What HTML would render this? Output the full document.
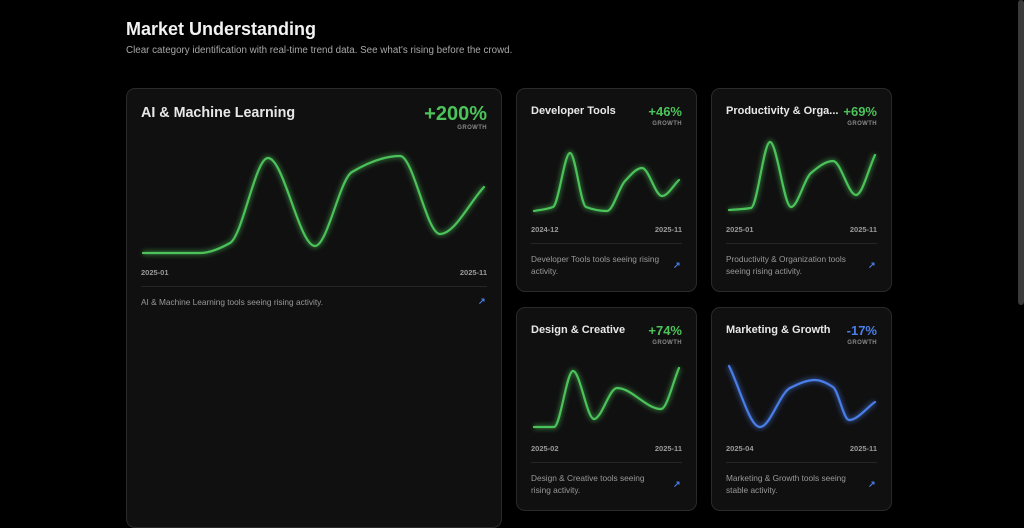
<!DOCTYPE html>
<html><head><meta charset="utf-8"><style>
*{margin:0;padding:0;box-sizing:border-box}
body{width:1024px;height:512px;background:#000;font-family:"Liberation Sans",sans-serif;position:relative;overflow:hidden;color:#eee}
.abs{position:absolute}
h1{position:absolute;left:126px;top:19px;font-size:18px;font-weight:bold;color:#f2f2f2}
.sub{position:absolute;left:126px;top:45px;font-size:9.8px;color:#a8a8a8}
.card{position:absolute;background:#101010;border:1px solid #2a2a2a;border-radius:9px}
.t{position:absolute;font-weight:bold;color:#e8e8e8;white-space:nowrap}
.g{position:absolute;font-weight:bold;text-align:right}
.gl{position:absolute;font-size:6px;font-weight:bold;color:#888;letter-spacing:.4px;text-align:right}
.d{position:absolute;font-size:7.5px;color:#9a9a9a;font-weight:bold}
.desc{position:absolute;font-size:8.3px;color:#999;line-height:11.5px}
.hr{position:absolute;height:1px;background:#262626}
.ar{position:absolute;color:#4a7ee8;font-size:9px;font-weight:bold}
svg{position:absolute;left:0;top:0}
</style></head><body>
<h1>Market Understanding</h1>
<div class="sub">Clear category identification with real-time trend data. See what's rising before the crowd.</div>
<div class="abs" style="left:1018px;top:0;width:6px;height:305px;background:#3a3a3a;border-radius:3px"></div>

<div class="card" style="left:126px;top:88px;width:376px;height:440px"></div>
<div class="t" style="left:141px;top:105px;font-size:14.3px">AI &amp; Machine Learning</div>
<div class="g" style="left:400px;width:87px;top:103px;font-size:20px;color:#4cc35a">+200%</div>
<div class="gl" style="left:430px;width:57px;top:125px">GROWTH</div>
<div class="d" style="left:141px;top:268px">2025-01</div>
<div class="d" style="left:440px;width:47px;text-align:right;top:268px">2025-11</div>
<div class="hr" style="left:141px;top:286px;width:346px"></div>
<div class="desc" style="left:141px;top:297px">AI &amp; Machine Learning tools seeing rising activity.</div>
<div class="ar" style="left:478px;top:296px">↗</div>

<div class="card" style="left:516px;top:88px;width:181px;height:204px"></div>
<div class="t" style="left:531px;top:105px;font-size:11px">Developer Tools</div>
<div class="g" style="left:630px;width:52px;top:104px;font-size:13px;color:#4cc35a">+46%</div>
<div class="gl" style="left:630px;width:52px;top:121px">GROWTH</div>
<div class="d" style="left:531px;top:225px">2024-12</div>
<div class="d" style="left:632px;width:50px;text-align:right;top:225px">2025-11</div>
<div class="hr" style="left:531px;top:243px;width:151px"></div>
<div class="desc" style="left:531px;top:254px;width:140px">Developer Tools tools seeing rising activity.</div>
<div class="ar" style="left:673px;top:260px">↗</div>

<div class="card" style="left:711px;top:88px;width:181px;height:204px"></div>
<div class="t" style="left:726px;top:105px;font-size:11px">Productivity &amp; Orga...</div>
<div class="g" style="left:830px;width:47px;top:104px;font-size:13px;color:#4cc35a">+69%</div>
<div class="gl" style="left:825px;width:52px;top:121px">GROWTH</div>
<div class="d" style="left:726px;top:225px">2025-01</div>
<div class="d" style="left:827px;width:50px;text-align:right;top:225px">2025-11</div>
<div class="hr" style="left:726px;top:243px;width:151px"></div>
<div class="desc" style="left:726px;top:254px;width:140px">Productivity &amp; Organization tools seeing rising activity.</div>
<div class="ar" style="left:868px;top:260px">↗</div>

<div class="card" style="left:516px;top:307px;width:181px;height:204px"></div>
<div class="t" style="left:531px;top:324px;font-size:11px">Design &amp; Creative</div>
<div class="g" style="left:630px;width:52px;top:323px;font-size:13px;color:#4cc35a">+74%</div>
<div class="gl" style="left:630px;width:52px;top:340px">GROWTH</div>
<div class="d" style="left:531px;top:444px">2025-02</div>
<div class="d" style="left:632px;width:50px;text-align:right;top:444px">2025-11</div>
<div class="hr" style="left:531px;top:462px;width:151px"></div>
<div class="desc" style="left:531px;top:473px;width:128px">Design &amp; Creative tools seeing rising activity.</div>
<div class="ar" style="left:673px;top:479px">↗</div>

<div class="card" style="left:711px;top:307px;width:181px;height:204px"></div>
<div class="t" style="left:726px;top:324px;font-size:11px">Marketing &amp; Growth</div>
<div class="g" style="left:825px;width:52px;top:323px;font-size:13px;color:#4a7ee8">-17%</div>
<div class="gl" style="left:825px;width:52px;top:340px">GROWTH</div>
<div class="d" style="left:726px;top:444px">2025-04</div>
<div class="d" style="left:827px;width:50px;text-align:right;top:444px">2025-11</div>
<div class="hr" style="left:726px;top:462px;width:151px"></div>
<div class="desc" style="left:726px;top:473px;width:130px">Marketing &amp; Growth tools seeing stable activity.</div>
<div class="ar" style="left:868px;top:479px">↗</div>

<svg id="s" width="1024" height="512">
<defs><filter id="gw" x="-20%" y="-20%" width="140%" height="140%"><feGaussianBlur stdDeviation="2.5"/></filter></defs>
</svg>
<script>
var series=[
 ["#4cc35a",[[143,253],[200,253],[230,243],[268,158],[315,246],[352,172],[400,156],[440,234],[484,187]]],
 ["#4cc35a",[[534,211],[553,207],[570,153],[586,207],[607,211],[625,181],[642,168],[662,196],[679,180]]],
 ["#4cc35a",[[729,210],[751,208],[770,142],[791,207],[811,173],[833,161],[856,195],[875,155]]],
 ["#4cc35a",[[534,427],[554,427],[573,371],[594,419],[617,388],[661,409],[679,368]]],
 ["#4a7ee8",[[729,366],[760,427],[790,388],[815,380],[833,387],[849,420],[875,402]]]
];
function mono(p){var n=p.length,s=[],m=[];
 for(var i=0;i<n-1;i++)s.push((p[i+1][1]-p[i][1])/(p[i+1][0]-p[i][0]));
 m[0]=s[0];m[n-1]=s[n-2];
 for(var i=1;i<n-1;i++){if(s[i-1]*s[i]<=0)m[i]=0;else{var h0=p[i][0]-p[i-1][0],h1=p[i+1][0]-p[i][0];
  m[i]=(3*(h0+h1))/((2*h1+h0)/s[i-1]+(h1+2*h0)/s[i]);}}
 var d='M'+p[0][0]+','+p[0][1];
 for(var i=0;i<n-1;i++){var h=(p[i+1][0]-p[i][0])/3;
  d+=' C'+(p[i][0]+h)+','+(p[i][1]+m[i]*h)+' '+(p[i+1][0]-h)+','+(p[i+1][1]-m[i+1]*h)+' '+p[i+1][0]+','+p[i+1][1];}
 return d;}
var s=document.getElementById('s'),h='';
series.forEach(function(x){var d=mono(x[1]);
 h+='<path d="'+d+'" fill="none" stroke="'+x[0]+'" stroke-width="5" opacity="0.45" filter="url(#gw)"/>';
 h+='<path d="'+d+'" fill="none" stroke="'+x[0]+'" stroke-width="2.2" stroke-linecap="round"/>';});
s.insertAdjacentHTML('beforeend',h);
</script>
</body></html>
